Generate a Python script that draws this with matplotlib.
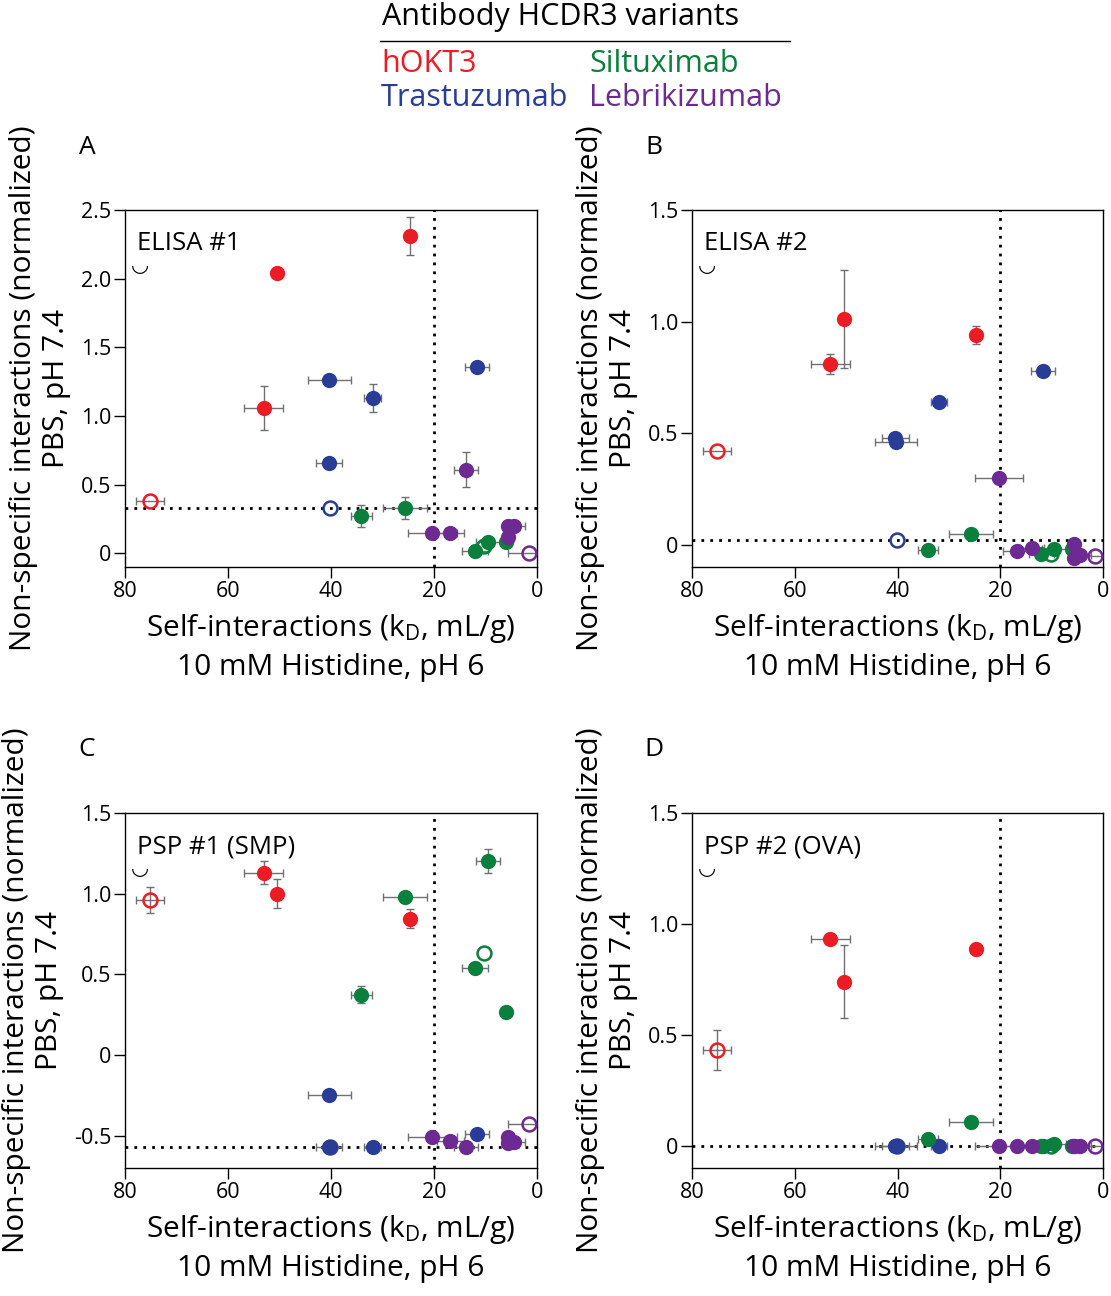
import matplotlib.pyplot as plt

plt.rcParams['font.family'] = ['Open Sans', 'DejaVu Sans']
plt.rcParams['mathtext.default'] = 'regular'

# colours of the four antibody groups
c_okt3 = '#ec1c24'
c_tras = '#2a3d96'
c_silt = '#0b7f3c'
c_lebr = '#6c2a92'

# self-interactions kD (mL/g), same for every panel
okt3_kd = [75.1, 53.1, 50.5, 24.7]
okt3_kd_err = [2.7, 3.8, 0, 0]
okt3_open = [True, False, False, False]

tras_kd = [40.1, 40.3, 40.4, 31.9, 11.7]
tras_kd_err = [0, 4.1, 2.6, 1.6, 2.3]
tras_open = [True, False, False, False, False]

silt_kd = [34.1, 25.7, 12.0, 10.2, 9.5, 6.1]
silt_kd_err = [2.0, 4.3, 2.5, 0, 2.3, 0]
silt_open = [False, False, False, True, False, False]

lebr_kd = [20.3, 16.8, 13.8, 5.7, 5.6, 4.4, 1.5]
lebr_kd_err = [4.7, 2.7, 2.4, 0, 0, 2.0, 4.2]
lebr_open = [False, False, False, False, False, False, True]

# non-specific interactions, one set per assay
elisa1_okt3 = [0.38, 1.06, 2.04, 2.31]
elisa1_okt3_err = [0, 0.16, 0, 0.14]
elisa1_tras = [0.33, 1.26, 0.66, 1.13, 1.36]
elisa1_tras_err = [0, 0, 0, 0.10, 0]
elisa1_silt = [0.27, 0.33, 0.02, 0.05, 0.085, 0.085]
elisa1_silt_err = [0.08, 0.08, 0, 0, 0, 0]
elisa1_lebr = [0.15, 0.15, 0.61, 0.20, 0.12, 0.20, 0.0]
elisa1_lebr_err = [0, 0, 0.13, 0, 0, 0, 0]

elisa2_okt3 = [0.42, 0.81, 1.01, 0.94]
elisa2_okt3_err = [0, 0.045, 0.22, 0.04]
elisa2_tras = [0.02, 0.46, 0.48, 0.64, 0.78]
elisa2_tras_err = [0, 0.02, 0.02, 0.015, 0]
elisa2_silt = [-0.026, 0.05, -0.04, -0.04, -0.018, -0.02]
elisa2_silt_err = [0, 0, 0, 0, 0, 0]
elisa2_lebr = [0.30, -0.03, -0.015, 0.005, -0.06, -0.045, -0.05]
elisa2_lebr_err = [0.015, 0, 0, 0, 0, 0, 0]

psp1_okt3 = [0.96, 1.13, 1.00, 0.845]
psp1_okt3_err = [0.08, 0.07, 0.09, 0.06]
psp1_tras = [-0.567, -0.247, -0.567, -0.567, -0.488]
psp1_tras_err = [0, 0, 0, 0, 0]
psp1_silt = [0.375, 0.98, 0.54, 0.63, 1.205, 0.264]
psp1_silt_err = [0.05, 0, 0, 0, 0.074, 0]
psp1_lebr = [-0.505, -0.53, -0.57, -0.505, -0.546, -0.54, -0.43]
psp1_lebr_err = [0, 0, 0, 0, 0, 0, 0]

psp2_okt3 = [0.43, 0.93, 0.74, 0.886]
psp2_okt3_err = [0.09, 0, 0.163, 0.025]
psp2_tras = [0, 0, 0, 0, 0]
psp2_tras_err = [0, 0, 0, 0, 0]
psp2_silt = [0.03, 0.107, 0, 0, 0.01, 0]
psp2_silt_err = [0, 0, 0, 0, 0, 0]
psp2_lebr = [0, 0, 0, 0, 0, 0, 0]
psp2_lebr_err = [0, 0, 0, 0, 0, 0, 0]

panel_names = ['ELISA #1', 'ELISA #2', 'PSP #1 (SMP)', 'PSP #2 (OVA)']
panel_letters = ['A', 'B', 'C', 'D']
panel_ylims = [(-0.1, 2.5), (-0.1, 1.5), (-0.7, 1.5), (-0.1, 1.5)]
panel_yticks = [[0, 0.5, 1.0, 1.5, 2.0, 2.5], [0, 0.5, 1.0, 1.5],
                [-0.5, 0, 0.5, 1.0, 1.5], [0, 0.5, 1.0, 1.5]]
panel_cutoff = [0.33, 0.022, -0.57, 0.0]
kd_cutoff = 20

panel_data = [
    [(elisa1_okt3, elisa1_okt3_err), (elisa1_tras, elisa1_tras_err),
     (elisa1_silt, elisa1_silt_err), (elisa1_lebr, elisa1_lebr_err)],
    [(elisa2_okt3, elisa2_okt3_err), (elisa2_tras, elisa2_tras_err),
     (elisa2_silt, elisa2_silt_err), (elisa2_lebr, elisa2_lebr_err)],
    [(psp1_okt3, psp1_okt3_err), (psp1_tras, psp1_tras_err),
     (psp1_silt, psp1_silt_err), (psp1_lebr, psp1_lebr_err)],
    [(psp2_okt3, psp2_okt3_err), (psp2_tras, psp2_tras_err),
     (psp2_silt, psp2_silt_err), (psp2_lebr, psp2_lebr_err)],
]
group_x = [(okt3_kd, okt3_kd_err, okt3_open, c_okt3),
           (tras_kd, tras_kd_err, tras_open, c_tras),
           (silt_kd, silt_kd_err, silt_open, c_silt),
           (lebr_kd, lebr_kd_err, lebr_open, c_lebr)]

fig = plt.figure(figsize=(11.11, 12.96), dpi=100)
W, H = 1111, 1296
boxes = [(125, 210, 537, 567), (692, 210, 1103, 567),
         (125, 813, 537, 1168), (692, 813, 1103, 1168)]

for i in range(4):
    l, t, r, b = boxes[i]
    ax = fig.add_axes([l / W, 1 - b / H, (r - l) / W, (b - t) / H])
    ax.set_xlim(80, 0)
    ax.set_ylim(*panel_ylims[i])
    ax.set_xticks([80, 60, 40, 20, 0])
    ax.set_xticklabels(['80', '60', '40', '20', '0'])
    ax.set_yticks(panel_yticks[i])
    ax.set_yticklabels(['0' if v == 0 else '%.1f' % v for v in panel_yticks[i]])
    ax.tick_params(labelsize=15.5, length=8, width=1, pad=2)
    for s in ax.spines.values():
        s.set_linewidth(1)

    ax.axhline(panel_cutoff[i], color='black', lw=2, ls=(0, (1, 2.2)), zorder=1)
    ax.axvline(kd_cutoff, color='black', lw=2, ls=(0, (1, 2.2)), zorder=1)

    for (xs, xe, op, col), (ys, ye) in zip(group_x, panel_data[i]):
        for x, dx, o, y, dy in zip(xs, xe, op, ys, ye):
            if dx > 0:
                ax.errorbar(x, y, xerr=dx, fmt='none', ecolor='#707070',
                            elinewidth=1, capsize=3, capthick=1, zorder=2)
            if dy > 0:
                ax.errorbar(x, y, yerr=dy, fmt='none', ecolor='#707070',
                            elinewidth=1, capsize=3, capthick=1, zorder=2)
            if o:
                ax.plot(x, y, 'o', ms=10, mfc='none', mec=col, mew=1.8, zorder=3)
            else:
                ax.plot(x, y, 'o', ms=11, mfc=col, mec=col, mew=0, zorder=3)

    ax.text(0.028, 0.905, panel_names[i], transform=ax.transAxes, fontsize=18.5,
            va='center', ha='left')
    ax.text(0.036, 0.845, '\u25e1', transform=ax.transAxes, fontsize=15,
            va='center', ha='center', family='DejaVu Sans')
    ax.set_xlabel('Self-interactions (k$_{D}$, mL/g)\n10 mM Histidine, pH 6',
                  fontsize=21.5, linespacing=1.4, labelpad=7)
    ax.set_ylabel('Non-specific interactions (normalized)\nPBS, pH 7.4',
                  fontsize=21.5, linespacing=1.2, labelpad=7)
    fig.text((l - 38) / W, 1 - (t - 63) / H, panel_letters[i], fontsize=19,
             ha='center', va='center')

# legend block at the top
fig.text(561 / W, 1 - 17 / H, 'Antibody HCDR3 variants', fontsize=22,
         ha='center', va='center')
fig.add_artist(plt.Line2D([380 / W, 790 / W], [1 - 41 / H, 1 - 41 / H],
                          color='black', lw=1))
fig.text(381 / W, 1 - 64 / H, 'hOKT3', color=c_okt3, fontsize=22, va='center')
fig.text(589 / W, 1 - 64 / H, 'Siltuximab', color=c_silt, fontsize=22, va='center')
fig.text(381 / W, 1 - 98 / H, 'Trastuzumab', color=c_tras, fontsize=22, va='center')
fig.text(589 / W, 1 - 98 / H, 'Lebrikizumab', color=c_lebr, fontsize=22, va='center')

fig.savefig('out.png', dpi=100)
